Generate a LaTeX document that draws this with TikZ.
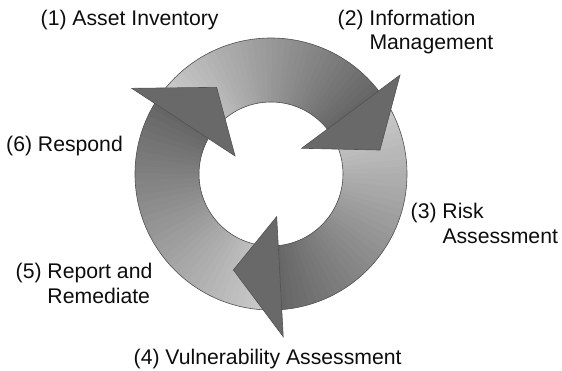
\documentclass[tikz,border=0pt]{standalone}
\usepackage{fontspec}
\setmainfont{Liberation Sans}
\tikzset{
  stepname/.style={anchor=base west, align=left, inner sep=0pt, text=black!95,
    font=\fontsize{21.2}{24.5}\selectfont},
  ringedge/.style={draw=black!68, line width=0.6pt},
  headshape/.style={fill=black!59, draw=black!68, line width=0.6pt},
}
\begin{document}
\begin{tikzpicture}[x=1pt,y=1pt]
  \useasboundingbox (-271,-197) rectangle (291,174);

  % ring bodies, light at the tail, dark at the head
  \foreach \tailang/\headang in {145/34, 34/-89.2, -89.2/-215} {
    \foreach \i in {0,...,39} {
      \pgfmathsetmacro\angA{\tailang+(\headang-\tailang)*\i/40}
      \pgfmathsetmacro\angB{\tailang+(\headang-\tailang)*(\i+1.5)/40}
      \pgfmathsetmacro\tone{20+41*\i/39}
      \fill[black!\tone] (\angA:72) arc[start angle=\angA, end angle=\angB, radius=72]
        -- (\angB:136) arc[start angle=\angB, end angle=\angA, radius=136] -- cycle;
    }
  }
  \begin{scope}[ringedge]
    \draw (0,0) circle[radius=72];
    \draw (0,0) circle[radius=136];
  \end{scope}

  % heads
  \foreach \outa/\outr/\tipa/\tipr/\ina/\inr in
      {148.4/163.5/122.1/102.3/153.4/40.2,
       37.5/162.6/12.4/111.6/40/40,
       -85.7/163.2/-111.4/103.1/-82.4/43}
    \draw[headshape] (\outa:\outr) -- (\tipa:\tipr) -- (\ina:\inr) -- cycle;

  % steps (base west = baseline of the last line)
  \node[stepname] (asset) at (-230.5,148) {(1) Asset Inventory};
  \node[stepname] (info) at (66.5,124) {(2) Information\\\hphantom{(2) }Management};
  \node[stepname] (risk) at (139.5,-69.3) {(3) Risk\\\hphantom{(3) }Assessment};
  \node[stepname] (vuln) at (-137.5,-191) {(4) Vulnerability Assessment};
  \node[stepname] (report) at (-255.5,-129.5) {(5) Report and\\\hphantom{(5) }Remediate};
  \node[stepname] (respond) at (-265,22.3) {(6) Respond};
\end{tikzpicture}
\end{document}
